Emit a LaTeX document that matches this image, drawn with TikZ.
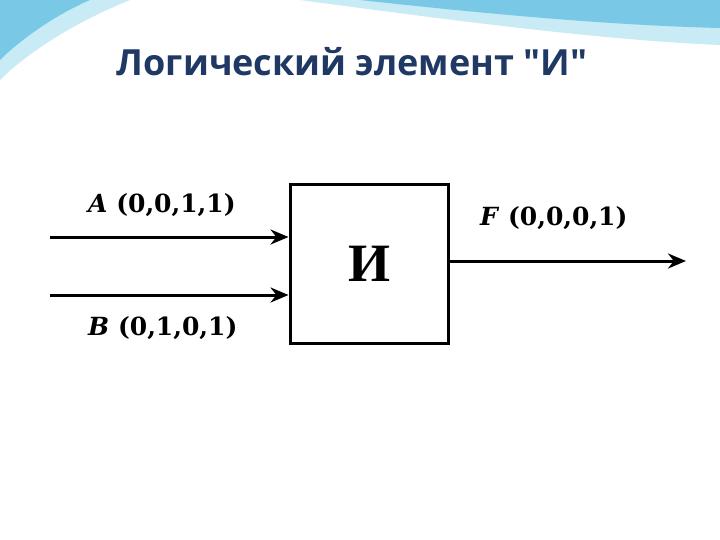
\documentclass[tikz,border=0pt]{standalone}
\usepackage{fontspec}
\setmainfont{Liberation Serif}
\newfontfamily\titlefont{Open Sans}
\newfontfamily\lblfont{DejaVu Serif}
\usetikzlibrary{arrows.meta}
\definecolor{titleblue}{RGB}{31,56,100}
\definecolor{wave1}{RGB}{120,200,230}
\definecolor{wave2}{RGB}{200,235,245}
\tikzset{
  wire/.style={line width=3pt,-{Stealth[length=18pt,width=15pt]}},
  lbl/.style={font=\lblfont\bfseries\fontsize{25}{28}\selectfont,anchor=west,inner sep=0pt},
  gate/.style={draw,line width=3pt,minimum width=158pt,minimum height=158pt}
}
\begin{document}
\begin{tikzpicture}[x=1pt,y=-1pt]
\useasboundingbox (0,0) rectangle (720,540);
\fill[white] (0,0) rectangle (720,540);
% decoration
\fill[wave2] (0,0) -- (130,0) .. controls (80,20) and (30,50) .. (0,80) -- cycle;
\fill[wave1] (0,0) -- (90,0) .. controls (55,15) and (20,40) .. (0,60) -- cycle;
\fill[wave2] (300,0) -- (720,0) -- (720,45) .. controls (600,40) and (450,20) .. (300,0) -- cycle;
\fill[wave1] (360,0) -- (720,0) -- (720,28) .. controls (600,25) and (470,12) .. (360,0) -- cycle;
\node[font=\titlefont\bfseries\fontsize{36}{40}\selectfont,text=titleblue] (t) at (352,62) {Логический элемент "И"};
% gate
\node[gate] (g) at (369,264) {};
\node[font=\bfseries\fontsize{54}{58}\selectfont] (gl) at (g.center) {И};
\coordinate (a0) at (50,237);
\coordinate (b0) at (50,295);
\coordinate (f1) at (686,261);
\draw[wire] (a0) -- (a0 -| g.west);
\draw[wire] (b0) -- (b0 -| g.west);
\draw[wire] (g.east |- f1) -- (f1);
\node[lbl] (la) at (88,205) {\textit{A} (0,0,1,1)};
\node[lbl] (lb) at (88,328) {\textit{B} (0,1,0,1)};
\node[lbl] (lf) at (480,218) {\textit{F} (0,0,0,1)};
\end{tikzpicture}
\end{document}
